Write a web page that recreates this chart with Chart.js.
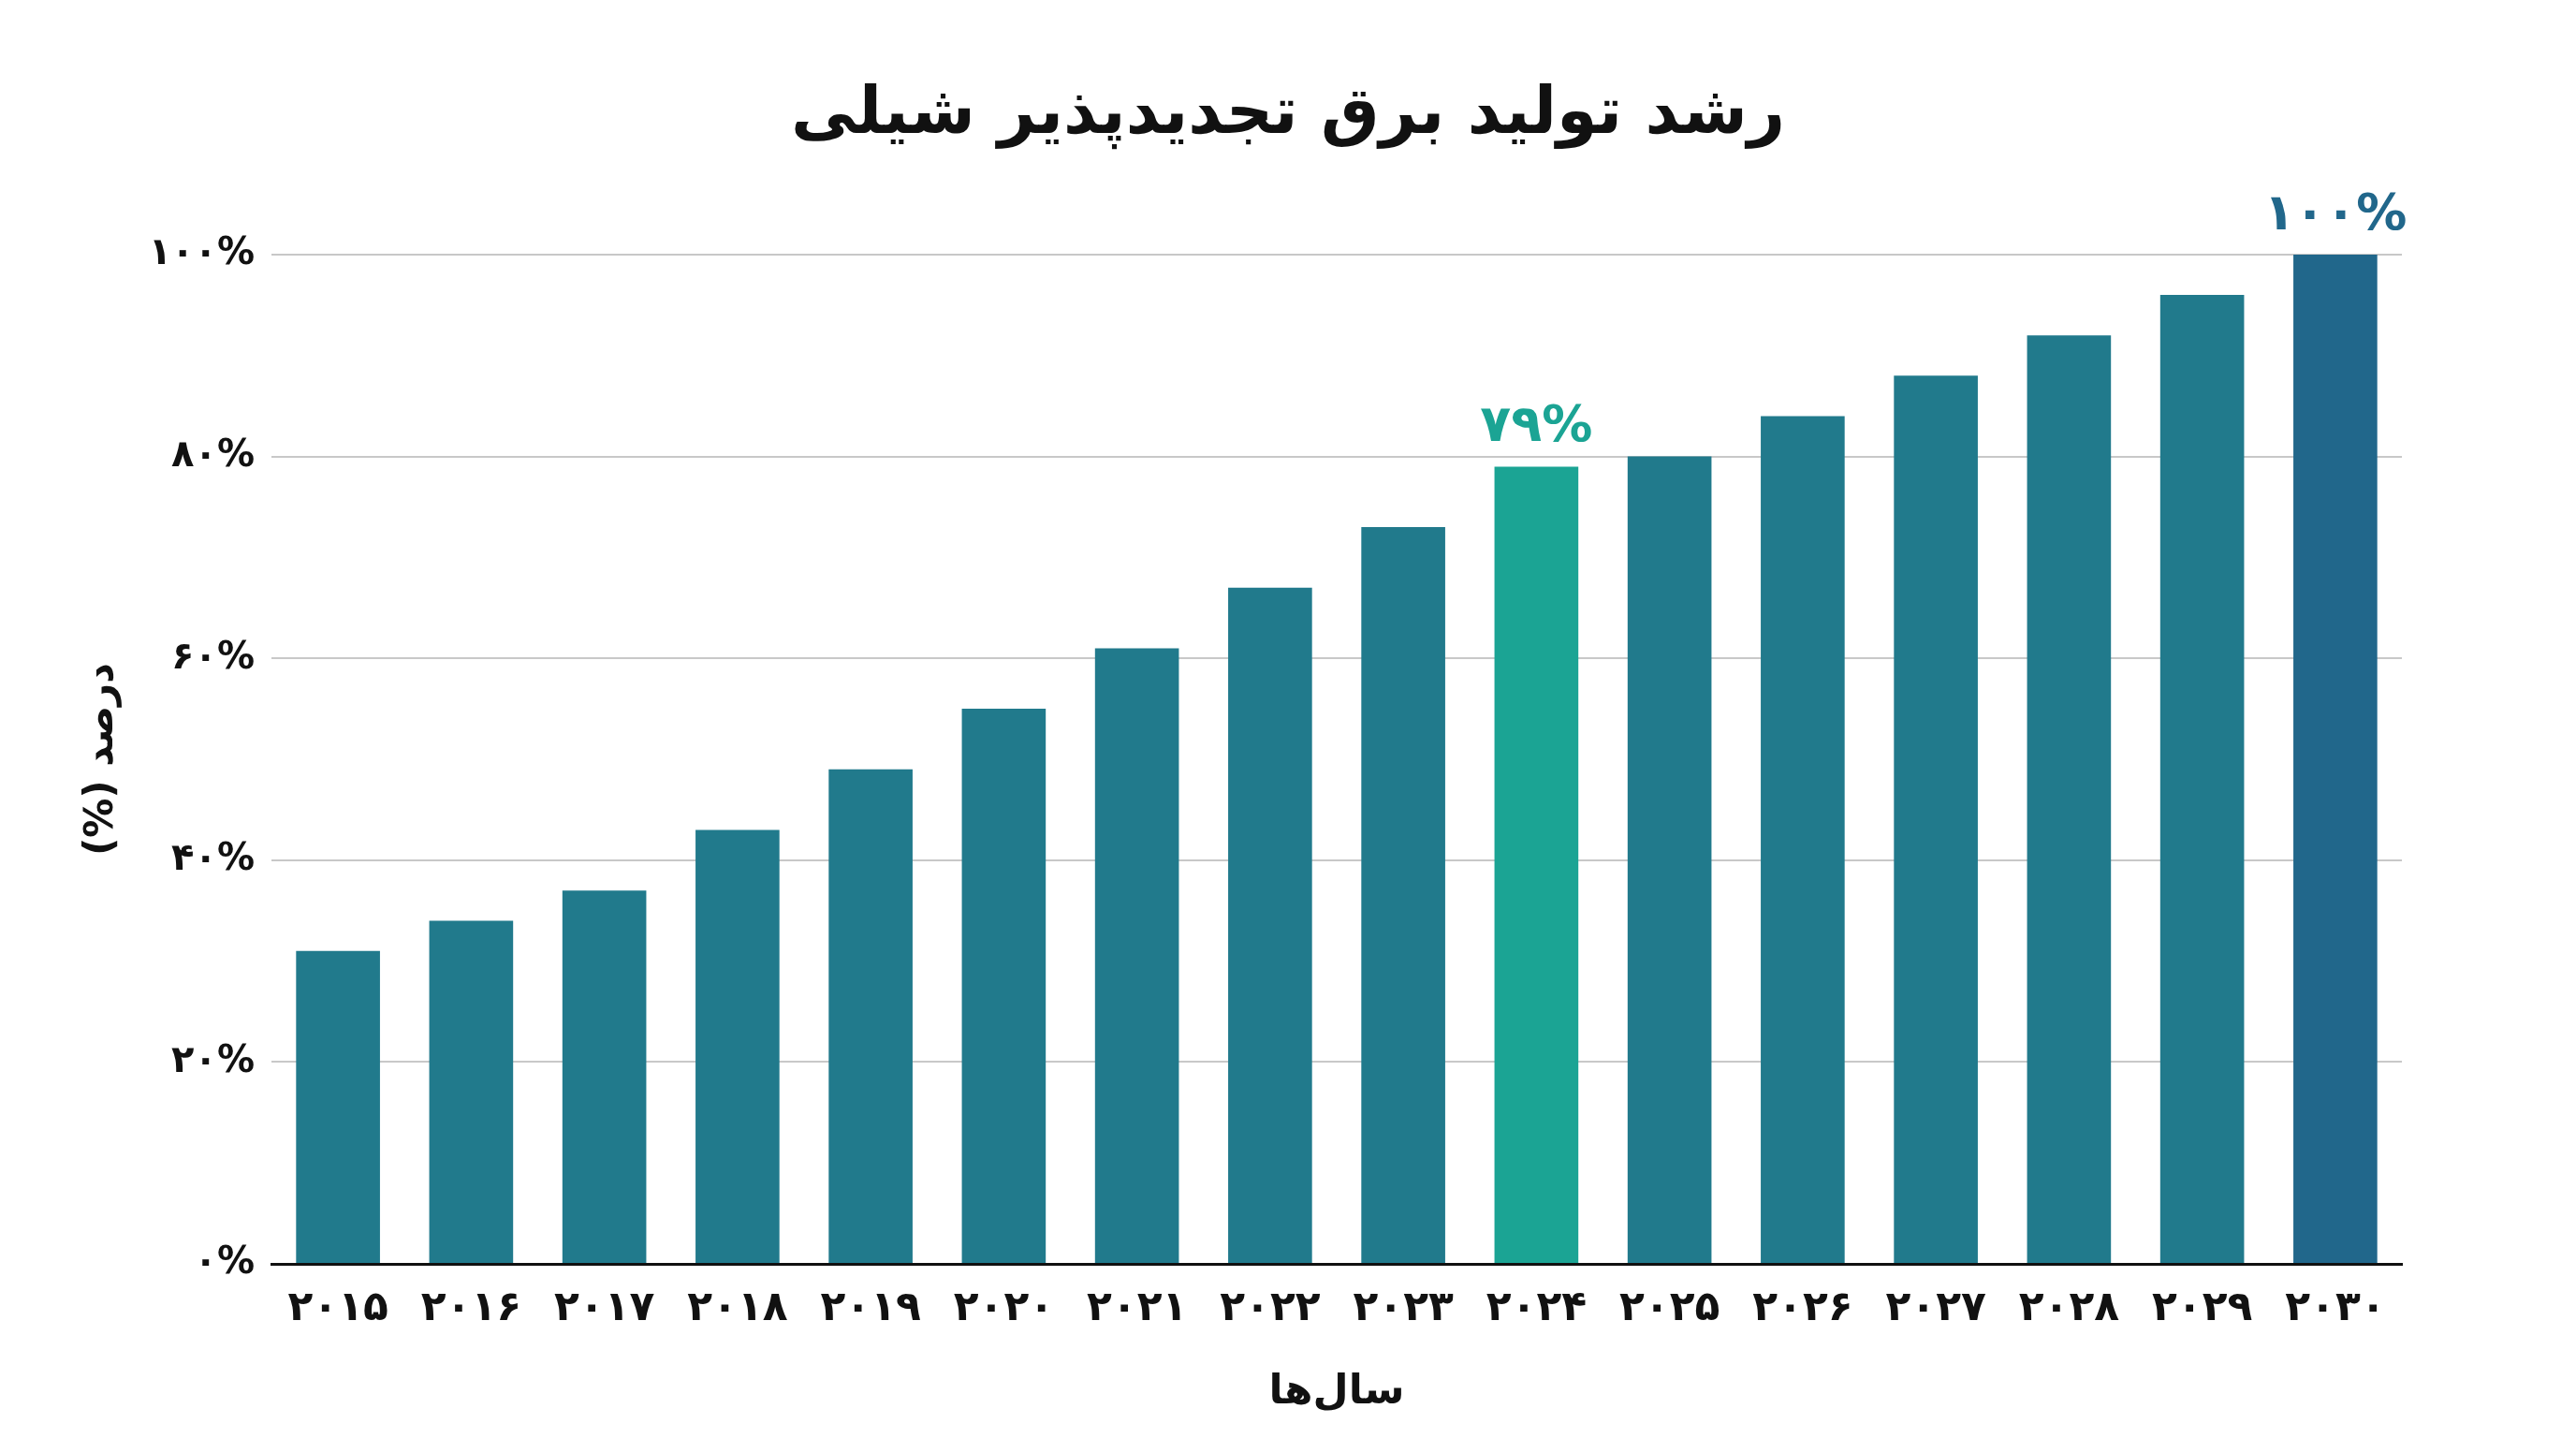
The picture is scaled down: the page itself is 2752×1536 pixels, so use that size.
<!DOCTYPE html>
<html lang="fa">
<head>
<meta charset="utf-8">
<title>رشد تولید برق تجدیدپذیر شیلی</title>
<script src="https://cdn.jsdelivr.net/npm/chart.js@4.4.1/dist/chart.umd.min.js"></script>
<style>
    html, body { margin: 0; padding: 0; background: #ffffff; }
    #chart { display: block; }
</style>
</head>
<body>
<canvas id="chart" width="2752" height="1536" dir="rtl"></canvas>
<script>
// ===== Data =====
const years = ['۲۰۱۵', '۲۰۱۶', '۲۰۱۷', '۲۰۱۸', '۲۰۱۹', '۲۰۲۰', '۲۰۲۱', '۲۰۲۲',
               '۲۰۲۳', '۲۰۲۴', '۲۰۲۵', '۲۰۲۶', '۲۰۲۷', '۲۰۲۸', '۲۰۲۹', '۲۰۳۰'];
const shares = [31, 34, 37, 43, 49, 55, 61, 67, 73, 79, 80, 84, 88, 92, 96, 100];
const yTickLabels = ['۰%', '۲۰%', '۴۰%', '۶۰%', '۸۰%', '۱۰۰%'];
const labelledYears = ['۲۰۲۴', '۲۰۳۰'];

const titleText = 'رشد تولید برق تجدیدپذیر شیلی';
const xTitle = 'سال\u200Cها';
const yTitle = 'درصد (%)';

const BAR_COLOR = '#217A8C';
const HIGHLIGHT_COLOR = '#1BA494';
const LAST_COLOR = '#21678B';
const FONT = "'DejaVu Sans', sans-serif";

const toFa = n => String(n).replace(/\d/g, d => '۰۱۲۳۴۵۶۷۸۹'[d]);

function barColor(i) {
    if (years[i] === labelledYears[0]) return HIGHLIGHT_COLOR;
    if (years[i] === labelledYears[1]) return LAST_COLOR;
    return BAR_COLOR;
}

// title centred on the whole canvas (the built-in one centres on the padded box)
const pageTitle = {
    id: 'pageTitle',
    afterDraw(chart) {
        const ctx = chart.ctx;
        ctx.save();
        ctx.font = 'bold 70px ' + FONT;
        ctx.fillStyle = '#111111';
        ctx.textAlign = 'center';
        ctx.textBaseline = 'middle';
        ctx.fillText(titleText, chart.width / 2, 124);
        ctx.restore();
    }
};

// value labels above the two marked bars
const valueLabels = {
    id: 'valueLabels',
    afterDatasetsDraw(chart) {
        const ctx = chart.ctx;
        const meta = chart.getDatasetMeta(0);
        ctx.save();
        ctx.font = 'bold 54px ' + FONT;
        ctx.textAlign = 'center';
        ctx.textBaseline = 'bottom';
        years.forEach((y, i) => {
            if (!labelledYears.includes(y)) return;
            const bar = meta.data[i];
            ctx.fillStyle = barColor(i);
            ctx.fillText(toFa(shares[i]) + '%', bar.x, bar.y - 14);
        });
        ctx.restore();
    }
};

const ctx = document.getElementById('chart').getContext('2d');
new Chart(ctx, {
    type: 'bar',
    data: {
        labels: years,
        datasets: [{
            data: shares,
            backgroundColor: years.map((y, i) => barColor(i)),
            borderWidth: 0,
            barPercentage: 0.63,
            categoryPercentage: 1
        }]
    },
    options: {
        responsive: false,
        animation: false,
        devicePixelRatio: 1,
        layout: { padding: { top: 272, left: 60, right: 186, bottom: 20 } },
        plugins: {
            legend: { display: false },
            tooltip: { enabled: false },
            title: { display: false }
        },
        scales: {
            x: {
                grid: { display: false, drawTicks: false },
                border: { display: true, color: '#111111', width: 3 },
                ticks: {
                    color: '#111111',
                    padding: 22,
                    font: { family: FONT, size: 44, weight: 'bold' }
                },
                title: {
                    display: true,
                    text: xTitle,
                    color: '#111111',
                    font: { family: FONT, size: 44, weight: 'bold', lineHeight: 1.2 },
                    padding: { top: 0, bottom: 2 }
                },
                afterFit: scale => { scale.height = 166; }
            },
            y: {
                min: 0,
                max: 100,
                grid: { color: '#c8c8c8', lineWidth: 2, drawTicks: false },
                border: { display: false },
                ticks: {
                    stepSize: 20,
                    color: '#111111',
                    padding: 18,
                    font: { family: FONT, size: 40, weight: 'bold' },
                    callback: value => yTickLabels[value / 20]
                },
                title: {
                    display: true,
                    text: yTitle,
                    color: '#111111',
                    font: { family: FONT, size: 42, weight: 'bold', lineHeight: 1.2 },
                    padding: { top: 24, bottom: 0 }
                },
                afterFit: scale => { scale.width = 230; }
            }
        }
    },
    plugins: [valueLabels, pageTitle]
});
</script>
</body>
</html>
